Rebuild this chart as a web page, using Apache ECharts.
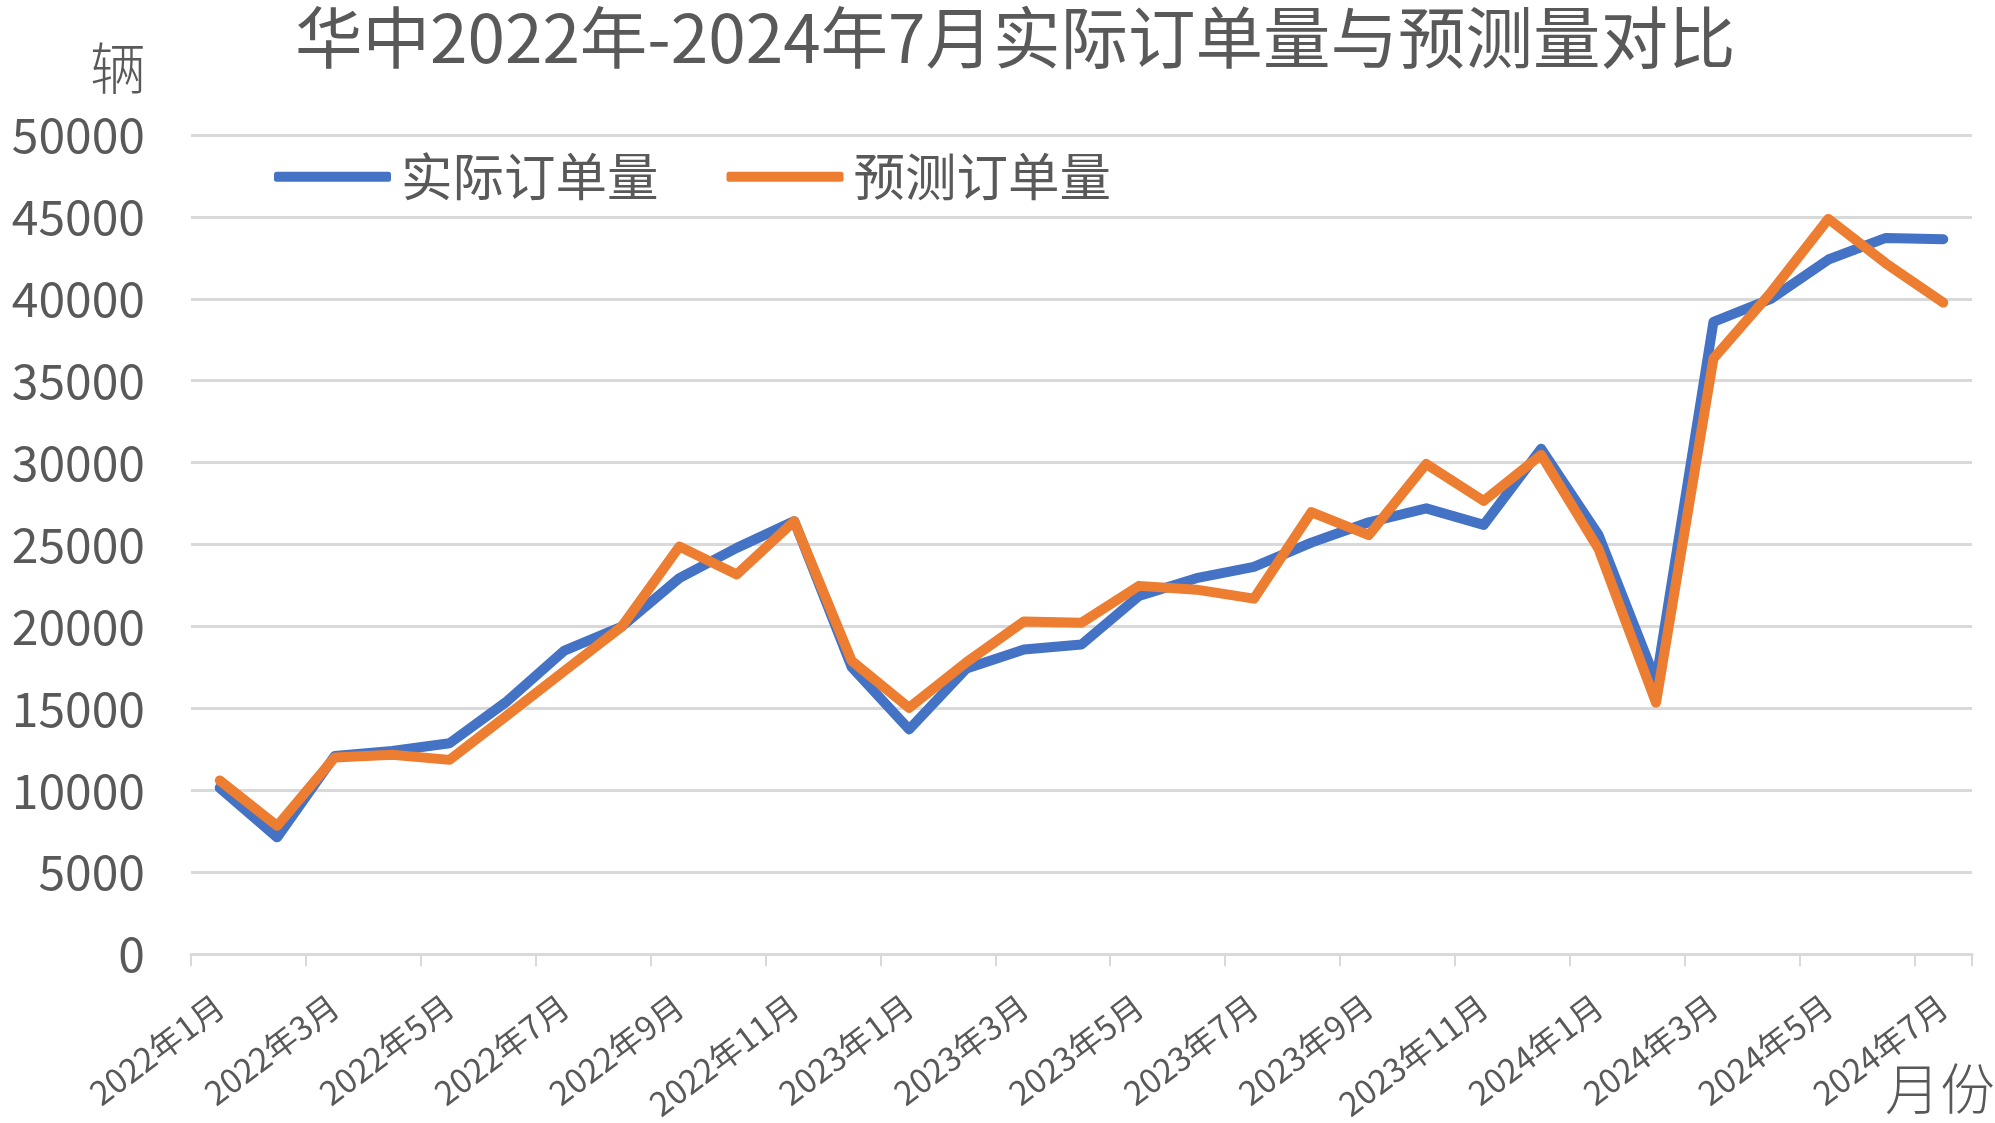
<!DOCTYPE html>
<html>
<head>
<meta charset="utf-8">
<script src="https://cdn.jsdelivr.net/npm/echarts@6/dist/echarts.min.js"></script>
<style>
  html, body { margin: 0; padding: 0; background: #ffffff; }
  #chart { width: 1995px; height: 1123px; }
</style>
</head>
<body>
<div id="chart"></div>
<script>
const months = [
  '2022年1月','2022年2月','2022年3月','2022年4月','2022年5月','2022年6月','2022年7月','2022年8月','2022年9月','2022年10月','2022年11月','2022年12月',
  '2023年1月','2023年2月','2023年3月','2023年4月','2023年5月','2023年6月','2023年7月','2023年8月','2023年9月','2023年10月','2023年11月','2023年12月',
  '2024年1月','2024年2月','2024年3月','2024年4月','2024年5月','2024年6月','2024年7月'
];
const actualOrders = [
  10150, 7130, 12090, 12400, 12870, 15430, 18530, 20000, 22950, 24800, 26430, 17520,
  13720, 17440, 18600, 18900, 21860, 22950, 23640, 25120, 26360, 27210, 26200, 30850,
  25580, 16670, 38600, 40000, 42400, 43720, 43640
];
const forecastOrders = [
  10600, 7830, 12000, 12170, 11860, 14570, 17290, 20000, 24880, 23180, 26430, 17900,
  15040, 17830, 20310, 20230, 22480, 22250, 21700, 26980, 25580, 29920, 27670, 30470,
  24730, 15350, 36360, 40390, 44880, 42170, 39770
];
const seriesNames = ['实际订单量', '预测订单量'];
const titleText = '华中2022年-2024年7月实际订单量与预测量对比';
const yUnit = '辆';
const xUnit = '月份';

const textColor = '#595959';
const fontFam = '"Noto Sans CJK SC", "Noto Sans", sans-serif';

const chart = echarts.init(document.getElementById('chart'), null, { renderer: 'canvas' });
chart.setOption({
  animation: false,
  backgroundColor: '#ffffff',
  title: {
    text: titleText,
    left: 295,
    top: 0,
    padding: [4, 0, 0, 0],
    textStyle: { color: textColor, fontSize: 67.5, fontWeight: 'normal', fontFamily: fontFam }
  },
  legend: {
    left: 269,
    top: 146,
    itemWidth: 117,
    itemHeight: 10,
    itemGap: 68,
    icon: 'roundRect',
    textStyle: { color: textColor, fontSize: 51.5, fontFamily: fontFam, padding: [0, 0, 0, 5] },
    data: seriesNames
  },
  grid: { left: 191, right: 23, top: 135, bottom: 167.5, containLabel: false },
  xAxis: {
    type: 'category',
    data: months,
    boundaryGap: true,
    axisLine: { lineStyle: { color: '#D9D9D9', width: 3 } },
    axisTick: { show: true, interval: 1, length: 12, lineStyle: { color: '#D9D9D9', width: 2 } },
    axisLabel: {
      interval: 1,
      rotate: 37,
      margin: 48,
      color: textColor,
      fontSize: 33,
      fontFamily: fontFam
    },
    splitLine: { show: false }
  },
  yAxis: {
    type: 'value',
    min: 0,
    max: 50000,
    interval: 5000,
    axisLine: { show: false },
    axisTick: { show: false },
    axisLabel: {
      color: textColor, fontSize: 48, fontFamily: fontFam, margin: 46,
      formatter: function (v) { return String(v); }
    },
    splitLine: { lineStyle: { color: '#D9D9D9', width: 3 } }
  },
  graphic: [
    {
      type: 'text', left: 90, top: 40,
      style: { text: yUnit, fill: textColor, fontSize: 56, fontFamily: fontFam, fontWeight: 300 }
    },
    {
      type: 'text', left: 1885, top: 1061,
      style: { text: xUnit, fill: textColor, fontSize: 55, fontFamily: fontFam, fontWeight: 300 }
    }
  ],
  series: [
    {
      name: seriesNames[0],
      type: 'line',
      data: actualOrders,
      symbol: 'none',
      lineStyle: { color: '#4472C4', width: 10, cap: 'round', join: 'round' },
      itemStyle: { color: '#4472C4' },
      z: 2
    },
    {
      name: seriesNames[1],
      type: 'line',
      data: forecastOrders,
      symbol: 'none',
      lineStyle: { color: '#ED7D31', width: 10, cap: 'round', join: 'round' },
      itemStyle: { color: '#ED7D31' },
      z: 3
    }
  ]
});
</script>
</body>
</html>
